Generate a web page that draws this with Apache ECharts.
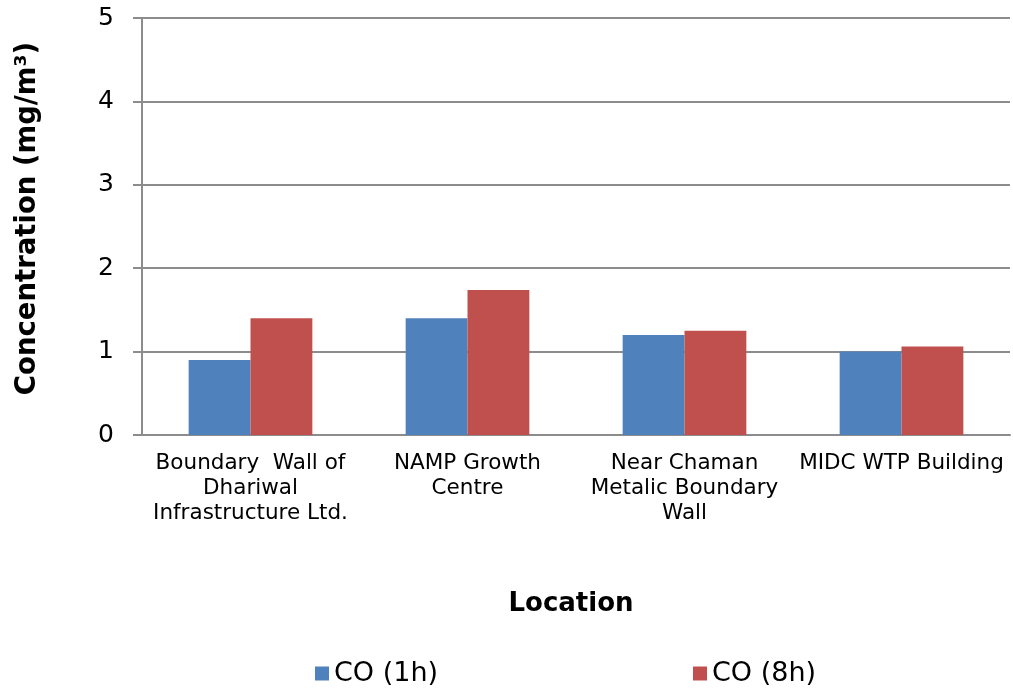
<!DOCTYPE html>
<html>
<head>
<meta charset="utf-8">
<script src="https://cdn.jsdelivr.net/npm/echarts@6/dist/echarts.min.js"></script>
<style>
  html, body { margin: 0; padding: 0; background: #fff; }
  #chart { width: 1013px; height: 693px; }
</style>
</head>
<body>
<div id="chart"></div>
<script>
// Monitoring locations (line breaks as wrapped under the axis)
const locations = [
  'Boundary  Wall of\nDhariwal\nInfrastructure Ltd.',
  'NAMP Growth\nCentre',
  'Near Chaman\nMetalic Boundary\nWall',
  'MIDC WTP Building'
];
// CO concentrations in mg/m³
const co1h = [0.9, 1.4, 1.2, 1.0];
const co8h = [1.4, 1.74, 1.25, 1.06];
const yTicks = [0, 1, 2, 3, 4, 5];

const gridColor = '#8c8c8c';
const mainFont = '"DejaVu Sans", Verdana, sans-serif';

const chart = echarts.init(document.getElementById('chart'), null, { renderer: 'canvas' });
chart.setOption({
  animation: false,
  backgroundColor: '#fff',
  grid: { left: 142, right: 3, top: 18, bottom: 258, containLabel: false },
  legend: [
    {
      data: ['CO (1h)'], left: 315, top: 660, padding: 0, itemGap: 0,
      itemWidth: 14, itemHeight: 14, icon: 'rect',
      textStyle: { fontFamily: mainFont, fontSize: 27, color: '#000' }
    },
    {
      data: ['CO (8h)'], left: 693, top: 660, padding: 0, itemGap: 0,
      itemWidth: 14, itemHeight: 14, icon: 'rect',
      textStyle: { fontFamily: mainFont, fontSize: 27, color: '#000' }
    }
  ],
  xAxis: {
    type: 'category',
    data: locations,
    name: 'Location',
    nameLocation: 'middle',
    nameGap: 156,
    nameTextStyle: {
      fontFamily: mainFont, fontSize: 26, fontWeight: 'bold', color: '#000',
      padding: [0, 10, 0, 0]
    },
    axisLine: { lineStyle: { color: gridColor, width: 2 } },
    axisTick: { show: false },
    axisLabel: {
      interval: 0, margin: 16, lineHeight: 25,
      fontFamily: mainFont, fontSize: 21.5, color: '#000'
    }
  },
  yAxis: {
    type: 'value',
    min: yTicks[0], max: yTicks[yTicks.length - 1], interval: 1,
    name: 'Concentration (mg/m³)',
    nameLocation: 'middle',
    nameGap: 100,
    nameTextStyle: {
      fontFamily: mainFont, fontSize: 27.5, fontWeight: 'bold', color: '#000',
      padding: [0, 0, 0, 16]
    },
    axisLine: { show: true, lineStyle: { color: gridColor, width: 2 } },
    axisTick: { show: true, length: 9, lineStyle: { color: gridColor, width: 2 } },
    axisLabel: { margin: 28, fontFamily: mainFont, fontSize: 25, color: '#000' },
    splitLine: { lineStyle: { color: gridColor, width: 2 } }
  },
  series: [
    {
      name: 'CO (1h)', type: 'bar', data: co1h,
      barGap: '0%', barCategoryGap: '43%',
      itemStyle: { color: '#4F81BD' }
    },
    {
      name: 'CO (8h)', type: 'bar', data: co8h,
      itemStyle: { color: '#C0504D' }
    }
  ]
});
</script>
</body>
</html>
